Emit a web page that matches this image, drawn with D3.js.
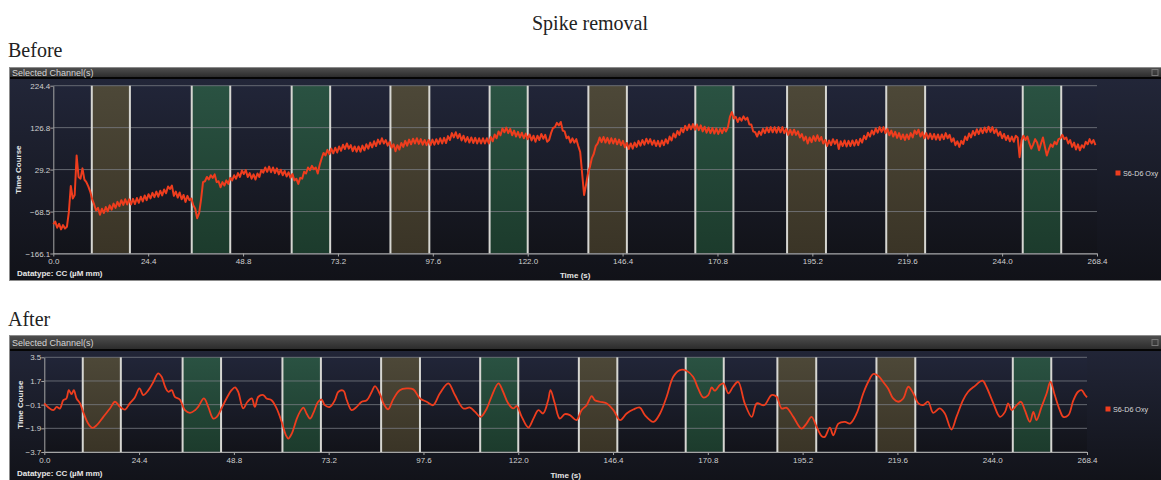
<!DOCTYPE html>
<html>
<head>
<meta charset="utf-8">
<script src="https://cdn.jsdelivr.net/npm/d3@7"></script>
<style>
  html, body { margin: 0; padding: 0; background: #ffffff; }
  svg { display: block; }
</style>
</head>
<body>
<svg id="chart" width="1161" height="480"></svg>
<script>
// ---- data ----
const timeTicks = [0.0, 24.4, 48.8, 73.2, 97.6, 122.0, 146.4, 170.8, 195.2, 219.6, 244.0, 268.4];
const beforeTicks = [224.4, 126.8, 29.2, -68.5, -166.1];
const afterTicks = [3.5, 1.7, -0.1, -1.9, -3.7];

// stimulus blocks (s) and their condition
const blockOnset  = [9.9, 35.6, 61.3, 86.7, 112.2, 137.6, 165.1, 188.7, 214.2, 249.3];
const blockOffset = [19.7, 45.5, 71.2, 96.7, 122.0, 147.5, 174.9, 198.7, 224.2, 259.2];
const blockCondition = ["A", "B", "B", "A", "B", "A", "B", "A", "A", "B"];

const channelName = "S6-D6 Oxy";

// raw oxy trace, sampled every 0.5 s from 0 s
const beforeSampleStep = 0.5;
const beforeOxy = [
  -98,-92,-106,-97,-110,-100,-108,-104,-70,-9,-38,-30,62,12,8,32,6,0,-10,-22,
  -40,-52,-66,-60,-76,-62,-72,-58,-68,-54,-64,-50,-60,-46,-56,-42,-53,-40,-52,-40,
  -52,-39,-51,-37,-48,-34,-45,-31,-42,-28,-38,-25,-35,-22,-34,-20,-31,-17,-26,-10,
  -16,-8,-32,-22,-36,-24,-40,-30,-46,-32,-42,-38,-54,-62,-84,-72,-40,0,2,12,
  6,16,10,18,0,2,-12,0,-8,4,-4,10,4,16,8,21,12,27,19,28,
  12,21,8,18,6,20,12,28,22,34,24,36,23,34,21,32,18,29,16,26,
  13,23,10,19,4,8,-4,10,8,24,20,34,28,38,30,34,20,40,55,68,
  62,75,65,78,67,80,69,83,73,87,77,90,78,86,72,83,71,83,71,85,
  74,88,78,92,81,95,84,99,89,102,90,98,85,94,80,88,72,86,76,91,
  82,96,85,99,88,101,90,102,89,100,87,98,86,98,86,99,87,100,89,102,
  90,103,91,107,98,114,104,116,102,112,97,108,94,105,92,104,91,103,90,102,
  90,102,90,102,90,105,95,111,102,118,109,125,116,127,114,124,109,120,106,117,
  104,115,102,113,100,111,97,108,94,108,98,112,101,110,94,98,114,126,128,138,
  132,140,120,118,102,106,92,102,92,100,84,70,20,-30,-6,20,36,56,66,84,
  90,104,93,105,92,103,90,102,90,101,88,99,86,96,81,91,77,90,78,92,
  82,96,85,98,87,101,90,100,87,97,84,96,83,97,86,100,90,106,97,113,
  104,119,110,125,116,131,121,134,123,135,122,134,121,132,118,129,115,127,114,126,
  113,125,112,124,114,126,118,128,152,163,148,152,140,150,143,153,145,150,134,134,
  118,116,106,118,110,124,114,127,116,128,116,128,115,128,116,128,114,124,110,122,
  110,122,110,118,104,112,97,106,90,104,93,107,96,109,96,105,90,98,84,97,
  86,100,89,98,77,95,84,97,83,96,84,97,85,98,86,101,92,108,100,115,
  106,120,111,125,115,128,117,128,114,124,109,120,106,117,103,114,100,111,98,111,
  100,114,104,120,112,122,106,116,102,114,101,113,100,112,99,111,98,111,100,114,
  102,110,94,102,86,95,82,96,89,106,98,113,104,119,109,123,112,125,114,127,
  116,129,117,128,114,123,108,117,102,112,98,108,95,106,94,108,104,58,98,108,
  98,106,90,78,88,100,92,74,90,104,82,62,76,88,82,94,88,100,102,110,
  100,104,90,98,82,92,76,88,74,86,80,94,88,100,90,98,86
];

// filtered oxy trace (time in s, value)
const afterTime = [
  0, 1, 2.3, 3.2, 4, 4.9, 5.7, 6.3, 7, 7.6, 8.3, 9.2, 10, 11.3, 12.4, 13.5, 15.2, 16.9, 18.2, 19.5,
  20.8, 22, 23.3, 24.5, 25.5, 26.8, 28.1, 29.3, 30.2, 31.1, 31.9, 32.8, 33.6, 34.9, 36.2, 37.5, 38.8, 39.6, 41.1, 42.2,
  43.5, 44.4, 45.6, 46.9, 48.2, 49.1, 49.9, 51.2, 52.3, 53.4, 54.2, 55.1, 56.4, 57.2, 58.5, 59.8, 61.1, 62.2, 62.8, 63.7,
  65, 65.8, 66.7, 67.5, 68.4, 69.2, 70.5, 71.4, 72.2, 73.5, 74.8, 75.7, 77, 77.8, 79.1, 80.4, 81.7, 83, 84.3, 85.1,
  86.4, 87.3, 88.5, 89.8, 91.5, 93.3, 95, 96.7, 98.4, 100.1, 101.8, 104, 105.7, 107.9, 109.6, 110.9, 112.3, 113.9, 115.1, 116.9,
  118.1, 119.4, 120.7, 121.6, 122.9, 124.6, 125.9, 127.2, 128.4, 129.7, 130.3, 131.4, 132.7, 134, 135.3, 137, 138.3, 139.6, 140.9, 141.7,
  143, 144.7, 146.5, 148.2, 149.9, 151.6, 153.3, 154.6, 156.8, 158.5, 160.2, 161.9, 163.6, 165.3, 167, 168.3, 169.6, 170.9, 171.8, 172.6,
  173.9, 174.8, 176.1, 177.3, 178.6, 180.3, 182.1, 183.4, 185.3, 187.2, 188.5, 189.8, 191.1, 192.8, 194.9, 196.2, 197.5, 198.8, 200.1, 200.9,
  202.2, 203.1, 204.4, 206.1, 207.4, 209.1, 210.8, 212.1, 213.4, 214.7, 215.9, 217.2, 218.5, 219.8, 221.1, 222.4, 223.7, 225, 226.2, 227.5,
  228.8, 230.5, 231.8, 233.5, 234.8, 236.5, 237.8, 239.5, 241.5, 242.5, 244.3, 246, 247.3, 248.1, 249, 250.3, 251.4, 252.4, 253.7, 254.6,
  255.4, 256.7, 258, 259, 260.1, 261.4, 262.3, 263.6, 264.9, 266.1, 267, 267.9, 268.4
];
const afterOxy = [
  0.0, -0.3, -0.52, -0.27, -0.4, 0.24, 0.37, 1.0, 0.7, 1.0, 0.37, 0.0, -0.65, -1.54, -1.87, -1.66, -1.03, -0.39, 0.12, -0.27,
  -0.47, 0.0, 0.45, 1.13, 0.63, 1.0, 1.64, 2.28, 2.02, 1.26, 0.88, 1.0, 0.5, 0.29, -0.52, -0.72, -0.52, -0.27, 0.37, -0.27,
  -1.16, -1.03, -0.39, 0.37, 1.0, 1.21, 0.88, -0.39, 0.12, 0.37, -0.27, 0.5, 0.63, 0.37, 0.24, -0.39, -1.41, -2.43, -2.68, -2.3,
  -1.16, -0.65, -0.32, -0.77, -1.16, -0.77, 0.12, 0.29, -0.14, -0.27, 0.24, 0.88, 0.96, 0.29, -0.52, -0.27, 0.12, 0.24, 0.88, 1.31,
  0.7, 0.0, -0.45, 0.3, 1.0, 1.13, 1.06, 0.37, 0.12, -0.14, 0.75, 1.52, 0.63, -0.39, -0.32, -0.65, -1.03, -0.39, 0.5, 1.52,
  0.88, 0.0, -0.39, -0.21, -1.03, -1.84, -1.16, -0.52, -0.77, 0.24, 1.0, 0.0, -1.16, -0.82, -0.9, -1.28, -0.52, -0.14, 0.55, 0.24,
  0.12, 0.0, -0.52, -1.28, -0.77, -0.47, -0.32, -0.9, -1.41, -0.77, 0.5, 2.02, 2.53, 2.48, 2.02, 1.13, 0.45, 0.63, 1.21, 0.96,
  1.39, 1.52, 0.75, 1.26, 1.64, 0.0, -1.03, 0.0, -0.14, 0.63, 0.5, -0.39, -0.34, -1.03, -1.92, -1.54, -1.03, -1.79, -2.5, -2.55,
  -1.84, -2.43, -1.54, -1.41, -1.54, -0.77, 0.75, 1.64, 2.23, 2.08, 1.64, 1.13, 0.37, 0.12, 0.37, 1.26, 0.75, 0.0, -0.14, 0.12,
  -0.72, -0.39, -0.77, -1.99, -1.03, 0.24, 0.88, 1.31, 1.72, 1.26, 0.0, -1.03, -0.65, 0.0, -0.52, -0.14, 0.12, -0.52, -1.41, -0.65,
  -1.28, -0.27, 0.75, 1.64, 0.63, -0.52, -1.03, -0.9, 0.24, 0.88, 1.0, 0.63, 0.45
];

// ---- drawing ----
const svg = d3.select("#chart");
const defs = svg.append("defs");
const uiFont = "'Liberation Sans', Arial, sans-serif";
const serifFont = "'Liberation Serif', 'Times New Roman', serif";

function verticalGradient(id, stops) {
  const gr = defs.append("linearGradient").attr("id", id)
    .attr("x1", 0).attr("y1", 0).attr("x2", 0).attr("y2", 1);
  stops.forEach(([o, c]) => gr.append("stop").attr("offset", o).attr("stop-color", c));
}
verticalGradient("bodyFill", [[0, "#23273a"], [1, "#111218"]]);
verticalGradient("plotFill", [[0, "#212538"], [1, "#121319"]]);
verticalGradient("headFill", [[0, "#4e4e4e"], [1, "#2c2c2c"]]);
verticalGradient("bandA", [[0, "#4d4838"], [1, "#3a3426"]]);
verticalGradient("bandB", [[0, "#2a5242"], [1, "#1c3b2c"]]);

const blocks = blockOnset.map((s, i) => ({ start: s, end: blockOffset[i], cond: blockCondition[i] }));

svg.append("text")
  .attr("x", 590).attr("y", 30)
  .attr("text-anchor", "middle")
  .attr("font-family", serifFont).attr("font-size", 20).attr("fill", "#222")
  .text("Spike removal");

function drawPanel(p) {
  const g = svg.append("g");

  svg.append("text")
    .attr("x", 8).attr("y", p.captionY)
    .attr("font-family", serifFont).attr("font-size", 20).attr("fill", "#222")
    .text(p.caption);

  // window frame
  g.append("rect")
    .attr("x", p.box.x + 0.5).attr("y", p.box.y + 0.5)
    .attr("width", p.box.w).attr("height", p.box.h)
    .attr("fill", "url(#bodyFill)").attr("stroke", "#8c8c8c");
  g.append("rect")
    .attr("x", p.box.x + 1).attr("y", p.box.y + 1)
    .attr("width", p.box.w - 1).attr("height", p.headH)
    .attr("fill", "url(#headFill)");
  g.append("rect")
    .attr("x", p.box.x + 1).attr("y", p.box.y + 1 + p.headH)
    .attr("width", p.box.w - 1).attr("height", 2)
    .attr("fill", "#050505");
  g.append("text")
    .attr("x", p.box.x + 3).attr("y", p.box.y + 1 + p.headH / 2)
    .attr("dominant-baseline", "central")
    .attr("font-family", uiFont).attr("font-size", 9).attr("fill", "#d4d4d4")
    .text("Selected Channel(s)");
  // window buttons
  g.append("rect")
    .attr("x", 1152).attr("y", p.box.y + 1 + p.headH / 2 - 3)
    .attr("width", 6).attr("height", 6)
    .attr("fill", "none").attr("stroke", "#777").attr("stroke-width", 1);

  const x = d3.scaleLinear().domain([timeTicks[0], timeTicks[timeTicks.length - 1]])
    .range([p.plot.l, p.plot.r]);
  const y = d3.scaleLinear().domain([p.ticks[p.ticks.length - 1], p.ticks[0]])
    .range([p.plot.b, p.plot.t]);

  g.append("rect")
    .attr("x", p.plot.l).attr("y", p.plot.t)
    .attr("width", p.plot.r - p.plot.l).attr("height", p.plot.b - p.plot.t)
    .attr("fill", "url(#plotFill)");

  // stimulus blocks
  g.selectAll(".band").data(blocks).join("rect")
    .attr("x", d => x(d.start)).attr("y", p.plot.t)
    .attr("width", d => x(d.end) - x(d.start)).attr("height", p.plot.b - p.plot.t)
    .attr("fill", d => d.cond === "A" ? "url(#bandA)" : "url(#bandB)");

  // horizontal grid
  g.selectAll(".grid").data(p.ticks).join("line")
    .attr("x1", p.plot.l).attr("x2", p.plot.r)
    .attr("y1", d => y(d)).attr("y2", d => y(d))
    .attr("stroke", "#7d8088").attr("stroke-width", 1).attr("opacity", 0.75);

  // block edge markers
  const edges = blocks.flatMap(d => [d.start, d.end]);
  g.selectAll(".edge").data(edges).join("line")
    .attr("x1", d => x(d)).attr("x2", d => x(d))
    .attr("y1", p.plot.t).attr("y2", p.plot.b)
    .attr("stroke", "#d6d6d2").attr("stroke-width", 2);

  // axes
  const yAxis = g.append("g").attr("transform", `translate(${p.plot.l},0)`)
    .call(d3.axisLeft(y).tickValues(p.ticks).tickSize(3).tickSizeOuter(0).tickFormat(d3.format(".1f")));
  const xAxis = g.append("g").attr("transform", `translate(0,${p.plot.b})`)
    .call(d3.axisBottom(x).tickValues(timeTicks).tickSize(3).tickSizeOuter(0).tickFormat(d3.format(".1f")));
  [yAxis, xAxis].forEach(a => {
    a.select(".domain").attr("stroke", "#a5a5a5");
    a.selectAll(".tick line").attr("stroke", "#a5a5a5");
    a.selectAll(".tick text").attr("fill", "#cfcfcf")
      .attr("font-family", uiFont).attr("font-size", 8);
  });
  yAxis.selectAll(".tick text").attr("x", -3);
  xAxis.selectAll(".tick text").attr("y", 5);

  // trace
  g.append("path")
    .datum(p.series)
    .attr("fill", "none")
    .attr("stroke", "#ee3d1e").attr("stroke-width", p.lineWidth)
    .attr("stroke-linejoin", "round")
    .attr("d", d3.line().x(d => x(d[0])).y(d => y(d[1])).curve(p.curve));

  // labels
  g.append("text")
    .attr("transform", `translate(${p.yLabelX},${(p.plot.t + p.plot.b) / 2}) rotate(-90)`)
    .attr("text-anchor", "middle").attr("dominant-baseline", "central")
    .attr("font-family", uiFont).attr("font-size", 8).attr("font-weight", "bold").attr("fill", "#e6e6e6")
    .text("Time Course");
  g.append("text")
    .attr("x", 17).attr("y", p.footY)
    .attr("font-family", uiFont).attr("font-size", 8).attr("font-weight", "bold").attr("fill", "#e6e6e6")
    .text("Datatype: CC (µM mm)");
  g.append("text")
    .attr("x", (p.plot.l + p.plot.r) / 2).attr("y", p.footY + 1.5)
    .attr("text-anchor", "middle")
    .attr("font-family", uiFont).attr("font-size", 8).attr("font-weight", "bold").attr("fill", "#e6e6e6")
    .text("Time (s)");

  // legend
  g.append("rect")
    .attr("x", p.legend.x - 2.5).attr("y", p.legend.y - 2.5)
    .attr("width", 5).attr("height", 5).attr("fill", "#ee3d1e");
  g.append("text")
    .attr("x", p.legend.x + 5).attr("y", p.legend.y)
    .attr("dominant-baseline", "central")
    .attr("font-family", uiFont).attr("font-size", 7.2).attr("fill", "#d8d8d8")
    .text(channelName);
}

drawPanel({
  caption: "Before", captionY: 57,
  box: { x: 9, y: 67, w: 1152, h: 213 }, headH: 9,
  plot: { l: 53.3, r: 1097, t: 85.7, b: 253.5 },
  ticks: beforeTicks,
  series: beforeOxy.map((v, i) => [i * beforeSampleStep, v]),
  curve: d3.curveLinear, lineWidth: 2,
  yLabelX: 18, footY: 276,
  legend: { x: 1118, y: 173 }
});

drawPanel({
  caption: "After", captionY: 326,
  box: { x: 9, y: 335, w: 1152, h: 150 }, headH: 13,
  plot: { l: 44.3, r: 1087, t: 357.3, b: 452 },
  ticks: afterTicks,
  series: afterTime.map((t, i) => [t, afterOxy[i]]),
  curve: d3.curveCatmullRom.alpha(0.5), lineWidth: 1.8,
  yLabelX: 20, footY: 476,
  legend: { x: 1108, y: 409 }
});
</script>
</body>
</html>
